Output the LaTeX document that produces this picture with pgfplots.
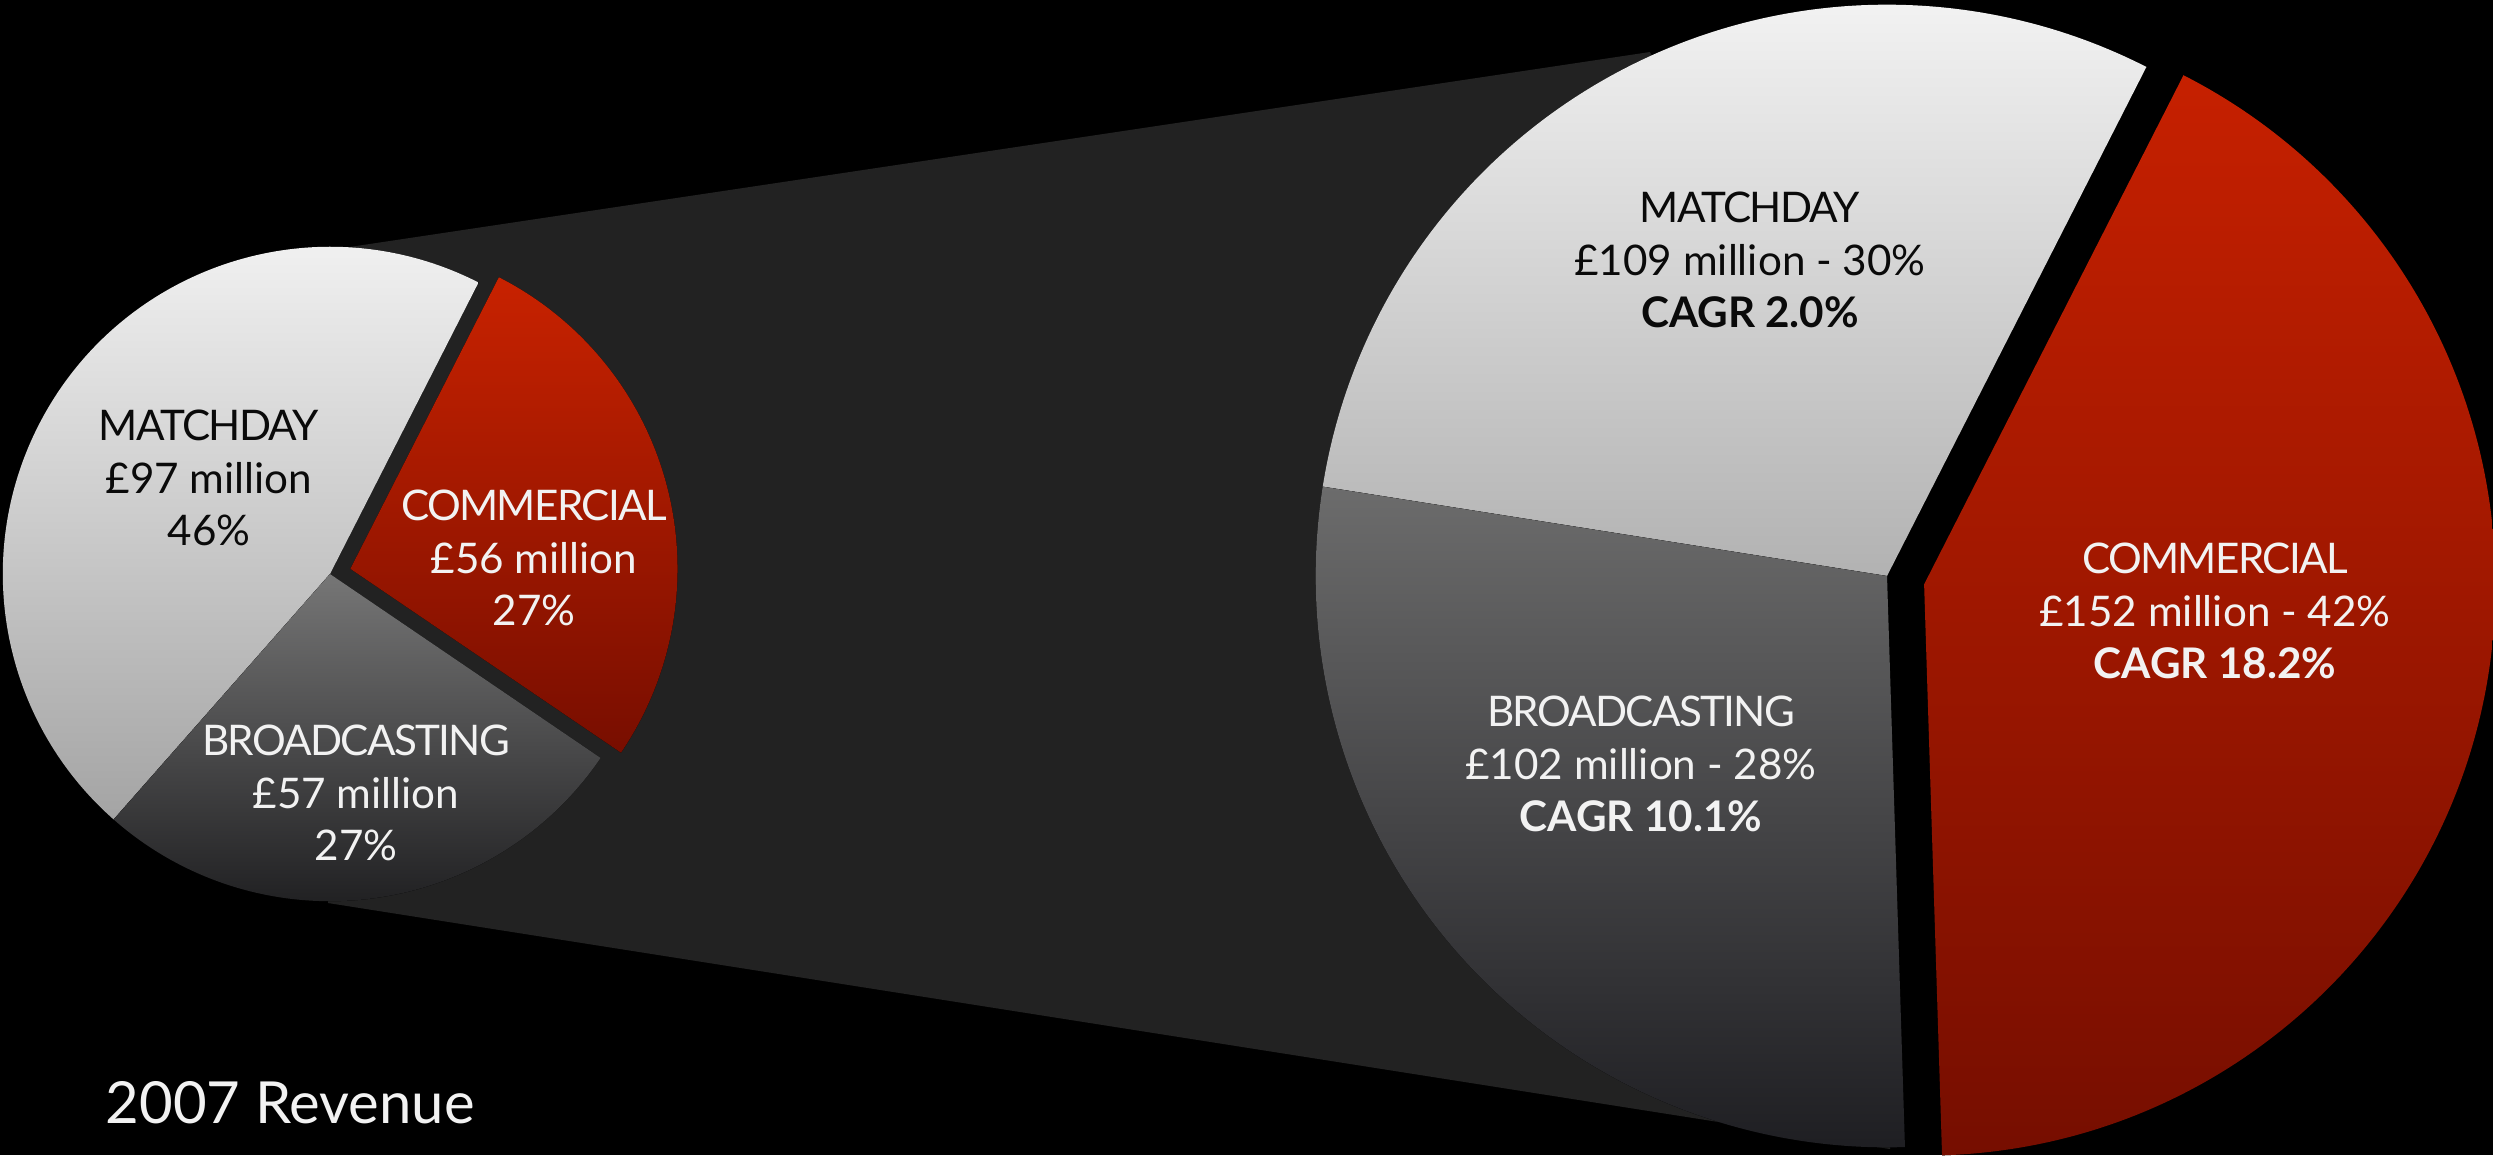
\documentclass[border=0pt]{standalone}
\usepackage{pgfplots}
\pgfplotsset{compat=1.18}
\usepackage{pgfplotstable}
\usepackage{fontspec}
\setmainfont{Lato}
\usetikzlibrary{calc}

\definecolor{bandc}{HTML}{222222}
\definecolor{lmT}{HTML}{F6F6F6}
\definecolor{lmB}{HTML}{A4A4A4}
\definecolor{lbT}{HTML}{767676}
\definecolor{lbB}{HTML}{1C1C1E}
\definecolor{lcT}{HTML}{C82200}
\definecolor{lcB}{HTML}{780E00}
\definecolor{rmT}{HTML}{F5F5F5}
\definecolor{rmB}{HTML}{B2B2B2}
\definecolor{rbT}{HTML}{6C6C6C}
\definecolor{rbB}{HTML}{1E1E22}
\definecolor{rcT}{HTML}{C62000}
\definecolor{rcB}{HTML}{760E00}
\definecolor{lightt}{HTML}{F2F2F2}
\definecolor{darkt}{HTML}{0A0A0A}

% 2007 revenue shares (percent) and values (GBP million)
\pgfplotstableread{
seg pct million
Matchday 46 97
Broadcasting 27 57
Commercial 27 56
}\leftdata
% later revenue shares (percent), values (GBP million), CAGR
\pgfplotstableread{
seg pct million cagr
Matchday 30 109 2.0
Broadcasting 28 102 10.1
Commercial 42 152 18.2
}\rightdata

\newcommand{\pieslice}[7]{% cx cy radius start end topcolor bottomcolor
  \fill[top color=#6,bottom color=#7] (axis cs:#1,#2) -- ++(#4:#3) arc[start angle=#4,end angle=#5,radius=#3] -- cycle;}
\newcommand{\pieslicex}[9]{% cx cy radius start end topcolor bottomcolor explodeangle explodedist
  \fill[top color=#6,bottom color=#7] ($(axis cs:#1,#2)+(#8:#9)$) -- ++(#4:#3) arc[start angle=#4,end angle=#5,radius=#3] -- cycle;}
\newcommand{\capw}[1]{{\addfontfeature{LetterSpace=-4}#1}}

\begin{document}%
\pgfplotstablegetelem{0}{pct}\of\leftdata\pgfmathsetmacro\LpA{\pgfplotsretval}%
\pgfplotstablegetelem{1}{pct}\of\leftdata\pgfmathsetmacro\LpB{\pgfplotsretval}%
\pgfplotstablegetelem{2}{pct}\of\leftdata\pgfmathsetmacro\LpC{\pgfplotsretval}%
\pgfplotstablegetelem{0}{pct}\of\rightdata\pgfmathsetmacro\RpA{\pgfplotsretval}%
\pgfplotstablegetelem{1}{pct}\of\rightdata\pgfmathsetmacro\RpB{\pgfplotsretval}%
\pgfplotstablegetelem{2}{pct}\of\rightdata\pgfmathsetmacro\RpC{\pgfplotsretval}%
\pgfmathsetmacro\Start{63}%
\pgfmathsetmacro\LmE{\Start+3.6*\LpA}%
\pgfmathsetmacro\LbE{\LmE+3.6*\LpB}%
\pgfmathsetmacro\LcE{\LbE+3.6*\LpC}%
\pgfmathsetmacro\LcM{(\LbE+\LcE)/2}%
\pgfmathsetmacro\RmE{\Start+3.6*\RpA}%
\pgfmathsetmacro\RbE{\RmE+3.6*\RpB}%
\pgfmathsetmacro\RcE{\RbE+3.6*\RpC}%
\pgfmathsetmacro\RcM{(\RbE+\RcE)/2}%
\begin{tikzpicture}
\begin{axis}[
  x=0.01cm, y=0.01cm,
  xmin=0, xmax=2493, ymin=0, ymax=1155,
  y dir=reverse,
  hide axis, clip=true,
]
\coordinate (bl) at (rel axis cs:0,0);
\coordinate (tr) at (rel axis cs:1,1);
\fill[black] (axis cs:0,0) rectangle (axis cs:2493,1155);
\fill[bandc] (axis cs:343,248) -- (axis cs:1650,52) -- (axis cs:1887,576) -- (axis cs:1890,1149) -- (axis cs:328,903) -- (axis cs:330,574) -- cycle;
% left pie
\pieslice{330}{574}{3.27cm}{\Start}{\LmE}{lmT}{lmB}
\pieslice{330}{574}{3.27cm}{\LmE}{\LbE}{lbT}{lbB}
\pieslicex{330}{574}{3.27cm}{\LbE}{\LcE}{lcT}{lcB}{\LcM}{0.21cm}
% right pie
\pieslice{1887}{576}{5.71cm}{\Start}{\RmE}{rmT}{rmB}
\pieslice{1887}{576}{5.71cm}{\RmE}{\RbE}{rbT}{rbB}
\pieslicex{1887}{576}{5.71cm}{\RbE}{\RcE}{rcT}{rcB}{\RcM}{0.38cm}
% labels
\tikzset{lab/.style={align=center,font=\fontsize{12}{15}\selectfont}}
\node[lab,text=darkt] at (axis cs:209,478) {\capw{MATCHDAY}\\£97 million\\46\%};
\node[lab,text=lightt] at (axis cs:534,558) {\capw{COMMERCIAL}\\£56 million\\27\%};
\node[lab,text=lightt] at (axis cs:356,793) {\capw{BROADCASTING}\\£57 million\\27\%};
\node[lab,text=darkt] at (axis cs:1750,260) {\capw{MATCHDAY}\\£109 million - 30\%\\\textbf{CAGR 2.0\%}};
\node[lab,text=lightt] at (axis cs:2215,611) {\capw{COMMERCIAL}\\£152 million - 42\%\\\textbf{CAGR 18.2\%}};
\node[lab,text=lightt] at (axis cs:1641,764) {\capw{BROADCASTING}\\£102 million - 28\%\\\textbf{CAGR 10.1\%}};
\node[anchor=base west,text=lightt,font=\fontsize{16.5}{20}\selectfont,inner sep=0pt] at (axis cs:105,1123) {2007 Revenue};
\end{axis}
\pgfresetboundingbox
\path (bl) rectangle (tr);
\end{tikzpicture}%
\end{document}
